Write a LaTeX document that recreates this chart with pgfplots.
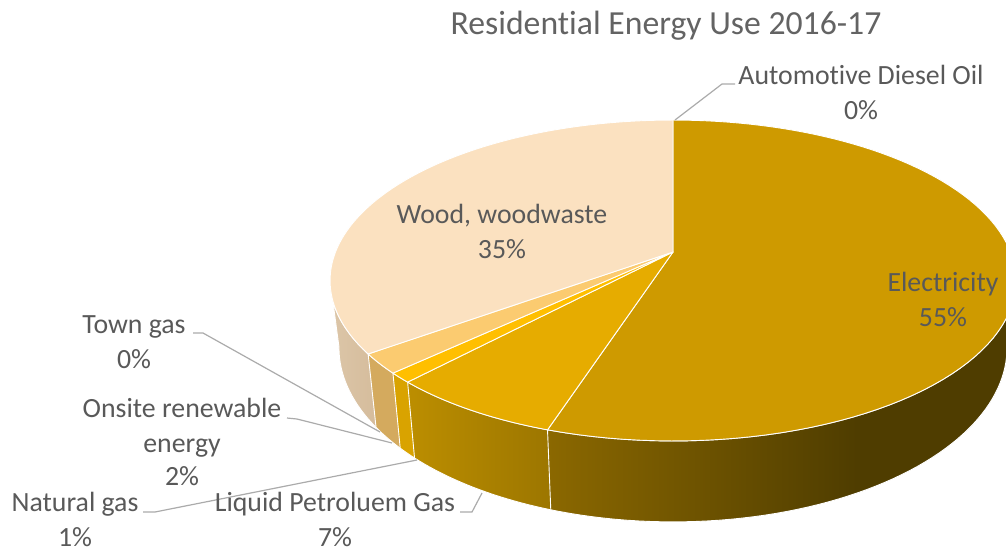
\documentclass[border=0pt]{standalone}
\usepackage{pgfplots}
\usepackage{pgfplotstable}
\usepackage{fontspec}
\setmainfont{Carlito}[Ligatures=NoCommon]
\pgfplotsset{compat=1.18}

% Shares in percent, clockwise from twelve o'clock
\pgfplotstableread[col sep=comma]{
source,share
Electricity,55
Liquid Petroluem Gas,7
Natural gas,1
Onsite renewable energy,2
Town gas,0
{Wood, woodwaste},35
Automotive Diesel Oil,0
}\energy

\definecolor{elecTop}{HTML}{CE9A00}
\definecolor{lpgTop}{HTML}{E6AC00}
\definecolor{ngTop}{HTML}{FFBF00}
\definecolor{onsiteTop}{HTML}{FBCB70}
\definecolor{woodTop}{HTML}{FBE1C0}
\definecolor{woodSideL}{HTML}{DCC6A8}
\definecolor{woodSideR}{HTML}{D5BC9C}
\definecolor{onsiteSide}{HTML}{D4AA5E}
\definecolor{ngSide}{HTML}{D9A300}
\definecolor{lpgSideL}{HTML}{BC8E00}
\definecolor{lpgSideR}{HTML}{9C7600}
\definecolor{elecStart}{HTML}{8B6800}
\definecolor{elecEnd}{HTML}{4F3D00}
\definecolor{leader}{HTML}{ABABAB}
\definecolor{labeltext}{HTML}{595959}
\definecolor{titletext}{HTML}{636363}

% Side wall of the electricity slice: darkens, then stays flat
\pgfdeclarehorizontalshading{elecside}{100bp}{
  color(0bp)=(elecStart);
  color(25bp)=(elecStart);
  color(58bp)=(elecEnd);
  color(100bp)=(elecEnd)}

% Running total of shares turned into a rim angle
\def\runningtotal{0}
\newcommand\takeshare[2]{%
  \pgfplotstablegetelem{#1}{share}\of\energy
  \pgfmathsetmacro\runningtotal{\runningtotal+\pgfplotsretval}%
  \pgfmathsetmacro#2{3.6*\runningtotal}%
}

% One slice of the top face and one stretch of side wall
\newcommand\topface[3]{%
  \addplot[#3,draw=white,line width=0.9pt,line join=round,domain=#1:#2,samples=90,variable=\t]
    ({topx(\t)},{topy(\t)}) -- (axis cs:673,252) -- cycle;}
\newcommand\sideface[3]{%
  \addplot[#3,draw=white,line width=0.9pt,line join=round,domain=0:2,samples=121,variable=\s]
    ({ifthenelse(\s<=1,topx(#1+(#2-#1)*min(1,\s/0.98)),botx(#1+(#2-#1)*min(1,(2-\s)/0.98)))},
     {ifthenelse(\s<=1,topy(#1+(#2-#1)*min(1,\s/0.98)),boty(#1+(#2-#1)*min(1,(2-\s)/0.98)))});}
\newcommand\leaderline[1]{\addplot[leader,line width=1.2pt] coordinates {#1};}

\begin{document}%
\takeshare{0}{\aElec}%
\takeshare{1}{\aLpg}%
\takeshare{2}{\aGas}%
\takeshare{3}{\aOnsite}%
\takeshare{4}{\aTown}%
\takeshare{5}{\aWood}%
\takeshare{6}{\aDiesel}%
\begin{tikzpicture}[x=1pt,y=1pt]
\path[use as bounding box] (0,0) rectangle (1006,549);
\begin{axis}[
  at={(0,0)},anchor=south west,
  x=1pt,y=1pt,
  xmin=0,xmax=1006,ymin=0,ymax=549,y dir=reverse,
  hide axis,
  declare function={
    dn(\t)=1+0.1776*cos(\t);
    topx(\t)=673+337.5*sin(\t)/dn(\t);
    topy(\t)=252-155.4*cos(\t)/dn(\t);
    botx(\t)=673+0.974*(topx(\t)-673);
    boty(\t)=1.086*topy(\t)+43;
  },
]
% side walls
\sideface{\aOnsite}{260}{left color=woodSideL,right color=woodSideR}
\sideface{\aGas}{\aOnsite}{fill=onsiteSide}
\sideface{\aLpg}{\aGas}{fill=ngSide}
\sideface{\aElec}{\aLpg}{left color=lpgSideL,right color=lpgSideR}
\sideface{100}{\aElec}{shading=elecside}
% top faces
\topface{0}{\aElec}{fill=elecTop}
\topface{\aElec}{\aLpg}{fill=lpgTop}
\topface{\aLpg}{\aGas}{fill=ngTop}
\topface{\aGas}{\aOnsite}{fill=onsiteTop}
\topface{\aTown}{\aWood}{fill=woodTop}
% leader lines
\leaderline{(675,120) (722,84) (735,84)}
\leaderline{(193,333) (203,333) (380,432)}
\leaderline{(287,418) (297,419) (392,443)}
\leaderline{(143,512) (155,512) (417,460)}
\leaderline{(460,512) (472,512) (482,493)}
% labels, placed by their baselines
\begin{scope}[every node/.style={anchor=base,inner sep=0pt,text=labeltext,font=\fontsize{27.8}{32}\selectfont}]
\node[text=titletext,font=\fontsize{33.7}{38}\selectfont] at (axis cs:666,34) {Residential Energy Use 2016-17};
\node at (axis cs:861,84) {Automotive Diesel Oil};
\node at (axis cs:861,119) {0\%};
\node at (axis cs:502,223) {Wood, woodwaste};
\node at (axis cs:502,258) {35\%};
\node at (axis cs:943,291) {Electricity};
\node at (axis cs:943,326) {55\%};
\node at (axis cs:134,333) {Town gas};
\node at (axis cs:134,368) {0\%};
\node at (axis cs:182,417) {Onsite renewable};
\node at (axis cs:182,452) {energy};
\node at (axis cs:182,485) {2\%};
\node at (axis cs:75,511) {Natural gas};
\node at (axis cs:75,546) {1\%};
\node at (axis cs:335,511) {Liquid Petroluem Gas};
\node at (axis cs:335,546) {7\%};
\end{scope}
\end{axis}
\end{tikzpicture}%
\end{document}
